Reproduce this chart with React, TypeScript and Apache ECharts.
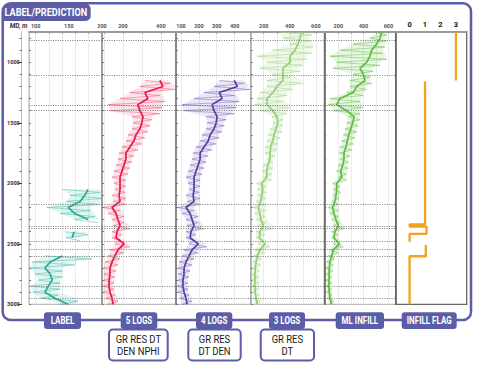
import React, { useEffect, useRef } from "react";
import * as echarts from "echarts";

// ---------------- DATA ----------------
const DEPTHS = [750, 800, 850, 900, 950, 1000, 1050, 1100, 1150, 1200, 1250, 1300, 1350, 1400, 1450, 1500, 1550, 1600, 1650, 1700, 1750, 1800, 1850, 1900, 1950, 2000, 2050, 2100, 2150, 2200, 2250, 2300, 2350, 2400, 2450, 2500, 2550, 2600, 2650, 2700, 2750, 2800, 2850, 2900, 2950, 3000];

const DEPTH_MAJOR = [1000, 1500, 2000, 2500, 3000];
const DEPTH_MINOR = [800, 900, 1000, 1100, 1200, 1300, 1400, 1500, 1600, 1700, 1800, 1900, 2000, 2100, 2200, 2300, 2400, 2500, 2600, 2700, 2800, 2900, 3000];

// horizontal dotted marker depths
const MARKER_DEPTHS = [820, 1110, 1352, 1399, 2176, 2352, 2370, 2481, 2541, 2604, 2847, 2947];

const N = null;
// LABEL track (teal)
const LABEL_CORE = [N, N, N, N, N, N, N, N, N, N, N, N, N, N, N, N, N, N, N, N, N, N, N, N, N, N, 179, 174, 167, 149, 159, 179, N, 158, 155, N, N, 140, 122, 114, 122, 125, 119, 114, 129, 149];
const LABEL_LO = [N, N, N, N, N, N, N, N, N, N, N, N, N, N, N, N, N, N, N, N, N, N, N, N, N, N, 140, 152, 146, 117, 137, 159, N, 144, 146, N, N, 114, 95, 92, 99, 104, 92, 96, 107, 137];
const LABEL_HI = [N, N, N, N, N, N, N, N, N, N, N, N, N, N, N, N, N, N, N, N, N, N, N, N, N, N, 197, 200, 197, 182, 189, 194, N, 179, 167, N, N, 185, 159, 140, 140, 137, 137, 134, 164, 159];

// 5 LOGS (red)
const RED_CORE = [N, N, N, N, N, N, N, N, 395, 411, 316, 332, 279, 290, 306, 300, 290, 269, 258, 237, 216, 216, 206, 195, 185, 185, 185, 180, 185, 143, 164, 174, 185, 169, 164, 206, 174, 158, 143, 132, 132, 127, 127, 132, 143, 148];
const RED_LO = [N, N, N, N, N, N, N, N, 316, 290, 237, 185, 122, 132, 248, 253, 248, 227, 216, 195, 180, 174, 164, 153, 143, 153, 158, 143, 148, 100, 122, 143, 148, 143, 143, 158, 132, 122, 106, 100, 100, 100, 95, 100, 111, 122];
const RED_HI = [N, N, N, N, N, N, N, N, 448, 480, 395, 421, 406, 395, 353, 343, 332, 316, 300, 279, 258, 248, 237, 227, 216, 216, 211, 216, 216, 185, 206, 206, 237, 195, 190, 237, 206, 185, 174, 164, 158, 153, 153, 158, 174, 169];

// 4 LOGS (purple)
const PURPLE_CORE = [N, N, N, N, N, N, N, N, 398, 415, 314, 330, 274, 285, 302, 297, 285, 263, 252, 229, 207, 207, 196, 184, 173, 173, 173, 168, 173, 128, 151, 162, 173, 156, 151, 196, 162, 145, 128, 117, 117, 111, 111, 117, 128, 134];
const PURPLE_LO = [N, N, N, N, N, N, N, N, 314, 285, 229, 173, 106, 117, 241, 246, 241, 218, 207, 184, 168, 162, 151, 139, 128, 139, 145, 128, 134, 83, 106, 128, 134, 128, 128, 145, 117, 106, 89, 83, 83, 83, 78, 83, 94, 106];
const PURPLE_HI = [N, N, N, N, N, N, N, N, 454, 486, 398, 426, 409, 398, 353, 342, 330, 314, 297, 274, 252, 241, 229, 218, 207, 207, 201, 207, 207, 173, 196, 196, 229, 184, 179, 244, 196, 173, 162, 151, 145, 139, 139, 145, 162, 156];

// 3 LOGS (light green)
const G3_CORE = [491, 478, 463, 440, 402, 402, 348, 348, 348, 302, 271, 225, 225, 271, 302, 309, 294, 279, 269, 253, 248, 248, 233, 223, 223, 184, 192, 184, 177, 158, 171, 177, 197, 171, 166, 210, 171, 151, 141, 135, 133, 133, 131, 135, 141, 151];
const G3_LO = [325, 348, 402, 271, 148, 225, 171, 271, 225, 225, 171, 148, 133, 171, 263, 271, 248, 233, 225, 210, 210, 225, 194, 187, 194, 146, 151, 151, 141, 120, 133, 141, 151, 141, 141, 158, 133, 120, 115, 110, 110, 108, 110, 115, 120, 133];
const G3_HI = [570, 555, 578, 570, 532, 501, 478, 402, 501, 425, 379, 348, 402, 379, 348, 348, 340, 325, 309, 302, 286, 271, 271, 263, 263, 223, 223, 217, 210, 223, 210, 223, 273, 210, 197, 248, 210, 184, 177, 166, 161, 166, 161, 166, 177, 171];

// ML INFILL (green)
const ML_CORE = [546, 533, 506, 466, 453, 426, 373, 399, 413, 347, 319, 213, 187, 267, 325, 315, 299, 283, 272, 261, 245, 245, 235, 219, 227, 187, 187, 181, 173, 155, 165, 181, 200, 173, 165, 208, 160, 147, 133, 128, 126, 126, 123, 128, 133, 147];
const ML_LO = [493, 453, 317, 213, 133, 187, 157, 319, 293, 293, 267, 133, 118, 160, 277, 267, 253, 240, 227, 213, 208, 213, 200, 187, 200, 155, 160, 155, 147, 120, 133, 147, 160, 147, 147, 160, 133, 120, 107, 102, 102, 102, 102, 107, 112, 128];
const ML_HI = [586, 586, 572, 556, 586, 533, 477, 453, 466, 426, 399, 373, 397, 373, 373, 359, 347, 333, 319, 307, 293, 280, 280, 267, 267, 213, 219, 208, 200, 200, 200, 208, 253, 200, 192, 240, 200, 173, 160, 155, 149, 149, 147, 149, 160, 165];

// INFILL FLAG (step curve)
const FLAG_VALUES = [3, 3, N, 1, 1, 0, 0, 1.1, 1.1, 0, 0, N, 1.05, 1.05, 0, 0];
const FLAG_DEPTHS = [750, 1150, N, 1160, 2340, 2340, 2358, 2358, 2418, 2418, 2484, N, 2509, 2603, 2603, 3000];

// axis tick labels per track
const TICK_LABELS = [
  [100, 150, 200],
  [200, 400],
  [100, 200, 300, 400],
  [200, 400, 600],
  [200, 400, 600],
  [0, 1, 2, 3],
];
const GRID_VALUES = [
  [100, 120, 140, 160, 180, 200],
  [100, 200, 300, 400],
  [100, 200, 300, 400],
  [200, 300, 400, 500, 600],
  [200, 300, 400, 500, 600],
  [0, 1, 2, 3],
];
const AXIS_RANGES = [
  [90, 200],
  [90, 480],
  [72, 490],
  [100, 665],
  [88, 658],
  [-0.9, 3.7],
];

const TRACK_NAMES = ["LABEL", "5 LOGS", "4 LOGS", "3 LOGS", "ML INFILL", "INFILL FLAG"];
const LOG_BOXES = ["GR RES DT\nDEN NPHI", "GR RES\nDT DEN", "GR RES\nDT"];

// ---------------- LAYOUT / STYLE ----------------
const PURPLE = "#5b5da6";
const FONT = "Roboto, 'Open Sans', sans-serif";
const TRACK_LEFT = [29, 102, 176, 250.7, 324.3, 395.7];
const TRACK_W = [73, 74, 74.7, 73.6, 71.4, 71];
const TOP = 32;
const HEIGHT = 272.3;
const BORDER = [
  { c: "#c4c4c4", w: 1 },
  { c: "#a0a0a0", w: 2 },
  { c: "#8a8a8a", w: 2 },
  { c: "#b0b0b0", w: 1.5 },
  { c: "#5a5a5a", w: 1.5 },
  { c: "#666666", w: 1.5 },
];
const COLORS = [
  { core: "#2aa896", halo: "rgba(60,185,165,0.55)", band: "rgba(80,195,175,0.16)" },
  { core: "#e5174b", halo: "rgba(238,80,115,0.55)", band: "rgba(240,100,130,0.16)" },
  { core: "#583d9e", halo: "rgba(120,95,188,0.55)", band: "rgba(130,110,195,0.16)" },
  { core: "#93cf73", halo: "rgba(165,215,138,0.6)", band: "rgba(180,222,155,0.2)" },
  { core: "#5fba41", halo: "rgba(112,196,82,0.6)", band: "rgba(130,205,100,0.18)" },
];
const FLAG_COLOR = "#f2a31b";

const TAB_X = [44, 120.7, 196, 269, 335.7, 401.7];
const TAB_W = [37, 36.6, 36.3, 36, 48.3, 55];
const BOX_X = [109, 188.3, 260.7];
const BOX_W = [58.7, 52.4, 53.3];

function pairs(values: (number | null)[], depths: (number | null)[]) {
  return values.map((v, k) => (v == null || depths[k] == null ? ["-", "-"] : [v, depths[k]]));
}

function zigzag(lo: (number | null)[], hi: (number | null)[]) {
  const half = (DEPTHS[1] - DEPTHS[0]) / 2;
  const out: any[] = [];
  lo.forEach((l, k) => {
    const h = hi[k];
    if (l == null || h == null) {
      out.push(["-", "-"]);
    } else {
      out.push([l, DEPTHS[k]]);
      out.push([h, DEPTHS[k] + half]);
    }
  });
  return out;
}

// contiguous lo/hi segments -> polygon bands
function segments(lo: (number | null)[], hi: (number | null)[]) {
  const segs: { lo: number[][]; hi: number[][] }[] = [];
  let cur: { lo: number[][]; hi: number[][] } | null = null;
  lo.forEach((l, k) => {
    const h = hi[k];
    if (l == null || h == null) {
      cur = null;
      return;
    }
    if (!cur) {
      cur = { lo: [], hi: [] };
      segs.push(cur);
    }
    cur.lo.push([l, DEPTHS[k]]);
    cur.hi.push([h, DEPTHS[k]]);
  });
  return segs;
}

function buildOption() {
  const grids: any[] = [];
  const xAxes: any[] = [];
  const yAxes: any[] = [];
  for (let i = 0; i < 6; i++) {
    grids.push({
      left: TRACK_LEFT[i],
      top: TOP,
      width: TRACK_W[i],
      height: HEIGHT,
      show: true,
      borderColor: i === 5 ? "#666" : "#aaa",
      borderWidth: i === 5 ? 1.3 : 1,
      backgroundColor: "transparent",
      containLabel: false,
      outerBoundsMode: "none",
    });
    xAxes.push({
      gridIndex: i,
      type: "value",
      position: "top",
      min: AXIS_RANGES[i][0],
      max: AXIS_RANGES[i][1],
      axisLine: { show: true, onZero: false, lineStyle: { color: "#9a9a9a", width: 2 } },
      axisTick: {
        show: i < 5,
        inside: true,
        length: 2,
        customValues: GRID_VALUES[i],
        lineStyle: { color: "#999" },
      },
      axisLabel: {
        show: true,
        customValues: TICK_LABELS[i],
        formatter: (v: number) => String(v),
        fontSize: i === 5 ? 7.5 : 5.5,
        fontWeight: "bold",
        color: i === 5 ? "#111" : "#555",
        margin: i === 5 ? 4 : 3,
        fontFamily: FONT,
      },
      splitLine: { show: i < 5, lineStyle: { color: "#ebebeb", width: 1 } },
    });
    yAxes.push({
      gridIndex: i,
      type: "value",
      inverse: true,
      min: 750,
      max: 3000,
      position: "left",
      axisLine: { show: true, onZero: false, lineStyle: { color: BORDER[i].c, width: BORDER[i].w } },
      axisTick: {
        show: i < 5,
        inside: true,
        length: 2,
        customValues: DEPTH_MINOR,
        lineStyle: { color: "#777" },
      },
      axisLabel: { show: false },
      splitLine: { show: false },
    });
  }
  // depth axis: minor ticks
  yAxes.push({
    gridIndex: 0,
    type: "value",
    inverse: true,
    min: 750,
    max: 3000,
    position: "left",
    offset: 7.3,
    axisLine: { show: true, onZero: false, lineStyle: { color: "#bbb", width: 1 } },
    axisTick: { show: true, length: 2, customValues: DEPTH_MINOR, lineStyle: { color: "#666" } },
    axisLabel: { show: false },
    splitLine: { show: false },
  });
  // depth axis: major ticks + labels
  yAxes.push({
    gridIndex: 0,
    type: "value",
    inverse: true,
    min: 750,
    max: 3000,
    position: "left",
    offset: 7.3,
    axisLine: { show: false },
    axisTick: { show: true, length: 3.5, customValues: DEPTH_MAJOR, lineStyle: { color: "#333", width: 1 } },
    axisLabel: {
      show: true,
      customValues: DEPTH_MAJOR,
      formatter: (v: number) => String(v),
      fontSize: 5.5,
      fontWeight: "bold",
      color: "#333",
      margin: 2,
      fontFamily: FONT,
    },
    splitLine: { show: false },
  });

  const logs = [
    [LABEL_CORE, LABEL_LO, LABEL_HI],
    [RED_CORE, RED_LO, RED_HI],
    [PURPLE_CORE, PURPLE_LO, PURPLE_HI],
    [G3_CORE, G3_LO, G3_HI],
    [ML_CORE, ML_LO, ML_HI],
  ];
  const series: any[] = [];
  logs.forEach(([core, lo, hi], i) => {
    const segs = segments(lo, hi);
    series.push({
      type: "custom",
      xAxisIndex: i,
      yAxisIndex: i,
      silent: true,
      clip: true,
      z: 1,
      data: segs.map((s) => [s.lo[0][0], s.lo[0][1]]),
      renderItem: (params: any, api: any) => {
        const s = segs[params.dataIndex];
        const pts = s.lo.map((p) => api.coord(p)).concat(s.hi.slice().reverse().map((p) => api.coord(p)));
        return { type: "polygon", shape: { points: pts }, style: { fill: COLORS[i].band } };
      },
    });
    series.push({
      type: "line",
      xAxisIndex: i,
      yAxisIndex: i,
      data: zigzag(lo, hi),
      showSymbol: false,
      symbol: "none",
      connectNulls: false,
      clip: true,
      silent: true,
      lineStyle: { color: COLORS[i].halo, width: 0.9 },
      z: 2,
    });
    series.push({
      type: "line",
      xAxisIndex: i,
      yAxisIndex: i,
      data: pairs(core, DEPTHS),
      showSymbol: false,
      symbol: "none",
      connectNulls: false,
      clip: true,
      silent: true,
      lineStyle: { color: COLORS[i].core, width: 1.7 },
      z: 3,
      markLine: {
        silent: true,
        symbol: ["none", "none"],
        label: { show: false },
        lineStyle: { color: "#6e6e6e", type: [1, 1.4], width: 0.9 },
        data: MARKER_DEPTHS.map((d) => ({ yAxis: d })),
        animation: false,
      },
    });
  });
  series.push({
    type: "line",
    xAxisIndex: 5,
    yAxisIndex: 5,
    data: pairs(FLAG_VALUES, FLAG_DEPTHS),
    showSymbol: false,
    symbol: "none",
    connectNulls: false,
    clip: true,
    lineStyle: { color: FLAG_COLOR, width: 2.3 },
    z: 3,
  });

  const graphics: any[] = [];
  graphics.push({
    type: "rect",
    shape: { x: 2.7, y: 3.3, width: 468.3, height: 316.7, r: 8 },
    style: { fill: "none", stroke: PURPLE, lineWidth: 2.5 },
    z: 1,
  });
  graphics.push({
    type: "rect",
    shape: { x: 2.7, y: 3.3, width: 88, height: 17.7, r: [8, 6, 5, 0] },
    style: { fill: PURPLE },
    z: 2,
  });
  graphics.push({
    type: "text",
    x: 4.5,
    y: 12.6,
    scaleX: 0.87,
    style: {
      text: "LABEL/PREDICTION",
      x: 0,
      y: 0,
      fill: "#fff",
      fontSize: 10.5,
      fontWeight: "bold",
      fontFamily: FONT,
      align: "left",
      verticalAlign: "middle",
      textAlign: "left",
      textVerticalAlign: "middle",
    },
    z: 3,
  });
  graphics.push({
    type: "text",
    x: 27.5,
    y: 25.5,
    style: {
      text: "MD, m",
      x: 0,
      y: 0,
      fill: "#333",
      fontSize: 6.5,
      fontWeight: "bold",
      fontStyle: "italic",
      fontFamily: FONT,
      align: "right",
      verticalAlign: "middle",
      textAlign: "right",
      textVerticalAlign: "middle",
    },
  });
  TRACK_NAMES.forEach((name, i) => {
    graphics.push({
      type: "rect",
      shape: { x: TAB_X[i], y: 312.3, width: TAB_W[i], height: 16.7, r: 3 },
      style: { fill: PURPLE },
      z: 4,
    });
    graphics.push({
      type: "text",
      x: TAB_X[i] + TAB_W[i] / 2,
      y: 321,
      scaleX: 0.8,
      style: {
        text: name,
        x: 0,
        y: 0,
        fill: "#fff",
        fontSize: 10,
        fontWeight: "bold",
        fontFamily: FONT,
        align: "center",
        verticalAlign: "middle",
        textAlign: "center",
        textVerticalAlign: "middle",
      },
      z: 5,
    });
  });
  LOG_BOXES.forEach((txt, i) => {
    graphics.push({
      type: "rect",
      shape: { x: BOX_X[i], y: 329.5, width: BOX_W[i], height: 31, r: 4 },
      style: { fill: "#fff", stroke: PURPLE, lineWidth: 2 },
      z: 4,
    });
    graphics.push({
      type: "text",
      x: BOX_X[i] + BOX_W[i] / 2,
      y: 345.5,
      scaleX: 0.9,
      style: {
        text: txt,
        x: 0,
        y: 0,
        fill: "#1a1a1a",
        fontSize: 10.5,
        lineHeight: 12,
        fontFamily: FONT,
        align: "center",
        verticalAlign: "middle",
        textAlign: "center",
        textVerticalAlign: "middle",
      },
      z: 5,
    });
  });

  return {
    animation: false,
    backgroundColor: "#ffffff",
    grid: grids,
    xAxis: xAxes,
    yAxis: yAxes,
    series,
    graphic: graphics,
  };
}

export default function App() {
  const ref = useRef<HTMLDivElement>(null);
  useEffect(() => {
    if (!ref.current) return;
    const chart = echarts.init(ref.current, null, { renderer: "svg" });
    chart.setOption(buildOption() as any);
    return () => chart.dispose();
  }, []);
  return (
    <div
      ref={ref}
      style={{ position: "absolute", left: 0, top: 0, width: 488, height: 367, background: "#fff" }}
    />
  );
}
